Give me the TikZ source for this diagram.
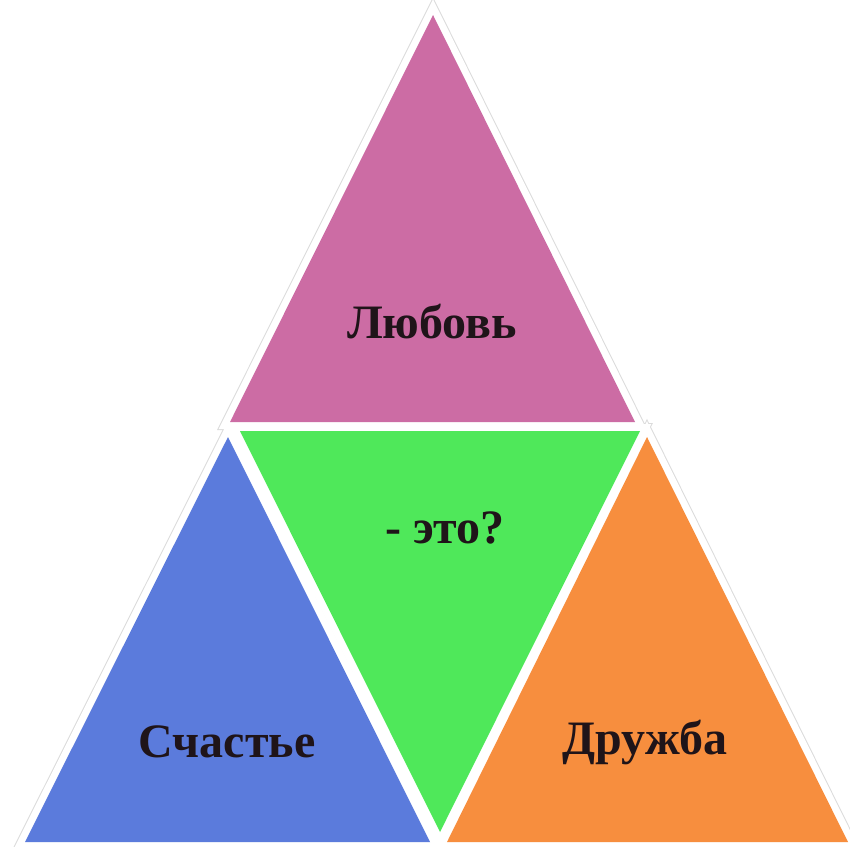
\documentclass[tikz,border=0pt]{standalone}
\usepackage{fontspec}
\setmainfont{Liberation Serif}
\definecolor{cpink}{HTML}{CC6CA4}
\definecolor{cgreen}{HTML}{4FE85A}
\definecolor{cblue}{HTML}{5B7BDC}
\definecolor{corange}{HTML}{F78E3E}
\definecolor{ctext}{HTML}{1F1419}
\begin{document}
\begin{tikzpicture}[x=1pt,y=-1pt,
  outl/.style={draw=black!14, line width=16pt, line join=miter},
  wbord/.style={draw=white, line width=14pt, line join=miter},
  lbl/.style={font=\fontsize{48}{54}\selectfont\bfseries, text=ctext, inner sep=0pt}]
\useasboundingbox (0,0) rectangle (850,846);
\fill[white] (0,0) rectangle (850,846);
% vertices
\coordinate (pA) at (433,15);  \coordinate (pL) at (230,422); \coordinate (pR) at (635,422);
\coordinate (gL) at (240,431); \coordinate (gR) at (640,431); \coordinate (gB) at (440,832);
\coordinate (bA) at (228,437); \coordinate (bL) at (25,842);  \coordinate (bR) at (430,842);
\coordinate (oA) at (647,437); \coordinate (oL) at (447,842); \coordinate (oR) at (848,842);
% faint outer outlines
\draw[outl] (pA) -- (pR) -- (pL) -- cycle;
\draw[outl] (gL) -- (gR) -- (gB) -- cycle;
\draw[outl] (bA) -- (bR) -- (bL) -- cycle;
\draw[outl] (oA) -- (oR) -- (oL) -- cycle;
% white borders
\draw[wbord] (pA) -- (pR) -- (pL) -- cycle;
\draw[wbord] (gL) -- (gR) -- (gB) -- cycle;
\draw[wbord] (bA) -- (bR) -- (bL) -- cycle;
\draw[wbord] (oA) -- (oR) -- (oL) -- cycle;
% fills
\fill[cpink] (pA) -- (pR) -- (pL) -- cycle;
\fill[cgreen] (gL) -- (gR) -- (gB) -- cycle;
\fill[cblue] (bA) -- (bR) -- (bL) -- cycle;
\fill[corange] (oA) -- (oR) -- (oL) -- cycle;
% labels
\node[lbl] (love) at (432,322) {Любовь};
\node[lbl] (what) at (445,528) {- это?};
\node[lbl] (happy) at (227,742) {Счастье};
\node[lbl] (friend) at (645,742) {Дружба};
\end{tikzpicture}
\end{document}
